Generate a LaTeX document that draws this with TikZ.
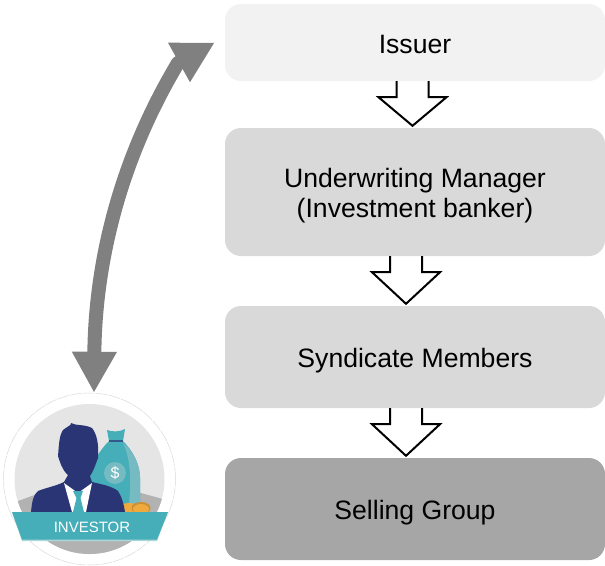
\documentclass[tikz,border=0pt]{standalone}
\usepackage{fontspec}
\setmainfont{Liberation Sans}
\usetikzlibrary{arrows.meta,calc}
\definecolor{navy}{HTML}{2A3575}
\definecolor{teal}{HTML}{45AEB8}
\definecolor{lightteal}{HTML}{76BAC2}
\definecolor{coin}{HTML}{EFA93C}
\tikzset{
	stagebox/.style={rounded corners=16pt,minimum width=380pt,align=center,font=\fontsize{26.6}{30}\selectfont,execute at begin node={\rule[-5.6pt]{0pt}{#1}}},
	stagebox/.default=32.5pt,
	hollow/.style={draw=black,line width=2pt,miter limit=10,to path={
		let \p1=(\tikztostart),\p2=(\tikztotarget) in
		(\x1-16pt,\y1) -- (\x1-16pt,\y1-16pt) -- (\x1-34pt,\y1-16pt) -- (\x1,\y2+2pt) -- (\x1+34pt,\y1-16pt) -- (\x1+16pt,\y1-16pt) -- (\x1+16pt,\y1)}},
	linkarrow/.style={draw=black!50,line width=14pt,line join=round,{Triangle[length=41pt,width=42pt]}-{Triangle[length=41pt,width=42pt]}}
}
\begin{document}
\begin{tikzpicture}[x=1pt,y=-1pt]
	\useasboundingbox (0,0) rectangle (605,565);
	\node[stagebox,fill=black!5,minimum height=77pt] (issuer) at (415,42.5) {Issuer};
	\node[stagebox=63pt,fill=black!15,minimum height=128pt] (manager) at (415,192) {Underwriting Manager\\(Investment banker)};
	\node[stagebox,fill=black!15,minimum height=102pt] (members) at (415,357) {Syndicate Members};
	\node[stagebox,fill=black!35,minimum height=102pt] (group) at (415,509) {Selling Group};
	\draw[hollow] ([xshift=-2.5pt]issuer.south) to (manager.north);
	\draw[hollow] ([xshift=-9pt]manager.south) to (members.north);
	\draw[hollow] ([xshift=-9pt]members.south) to (group.north);
	% investor badge
	\node[circle,minimum size=172pt,inner sep=0pt,draw=black!15,line width=.5pt,dash pattern=on 12pt off 1pt] (investor) at (89.5,479) {};
	\begin{scope}
		\clip (89.5,479) circle (75);
		\fill[black!10!white] (0,400) rectangle (170,560);
		\fill[black!30] (10,504) -- (40,493) -- (130,490) -- (170,501) -- (170,560) -- (10,560) -- cycle;
	\end{scope}
	% money bag
	\fill[teal] (107,430) .. controls (112,432) and (120,432) .. (125,429) -- (123,441) .. controls (132,450) and (141,464) .. (140,482) -- (140,512) -- (90,512) -- (90,475) .. controls (92,462) and (100,450) .. (109,441) -- cycle;
	\fill[lightteal] (123,443) .. controls (132,450) and (141,464) .. (140,482) -- (140,505) -- (129,505) .. controls (131,480) and (131,460) .. (123,443) -- cycle;
	\draw[navy!70!teal,line width=1.2pt] (109,441) -- (123,441);
	\fill[lightteal] (115,473) circle (11);
	\node[text=white,font=\fontsize{16}{16}\selectfont,inner sep=0pt] (dollar) at (115,473) {\$};
	\fill[coin] (129,508) ellipse (10 and 5);
	\fill[coin!85!black] (141,508) ellipse (9.5 and 6);
	\fill[coin] (141,509) ellipse (8 and 5);
	% man
	\fill[navy] (31,512) .. controls (32,502) and (33,495) .. (38,491) .. controls (45,488) and (56,486) .. (64,482) -- (68,475) .. controls (62,470) and (60,462) .. (58,456) .. controls (59,445) and (59,436) .. (63,430) .. controls (68,426) and (72,425) .. (71,423) .. controls (76,426) and (84,424) .. (92,428) .. controls (97,434) and (99,445) .. (98,458) .. controls (95,466) and (93,472) .. (90,476) -- (92,482) .. controls (100,484) and (112,486) .. (118,491) .. controls (122,497) and (124,505) .. (125,512) -- cycle;
	\fill[white] (64,483) -- (78,493) -- (92,483) -- (86,512) -- (72,512) -- cycle;
	\fill[teal] (73,491) -- (83,491) -- (80.5,498) -- (84,512) -- (73,512) -- (76.5,498) -- cycle;
	% ribbon
	\fill[lightteal!60!white] (12,512) -- (168,512) -- (157,541) -- (22,541) -- cycle;
	\fill[teal] (12,512) -- (168,512) -- (157,539.5) -- (22,539.5) -- cycle;
	\node[text=white,font=\fontsize{15}{15}\selectfont,inner sep=0pt] (investorlabel) at (92,527) {INVESTOR};
	\coordinate (kink) at (178,63);
	\draw[linkarrow] ([xshift=4.5pt]investor.north) .. controls (95,275) and (114,170) .. (kink) -- ([xshift=-10pt]issuer.west);
\end{tikzpicture}
\end{document}
